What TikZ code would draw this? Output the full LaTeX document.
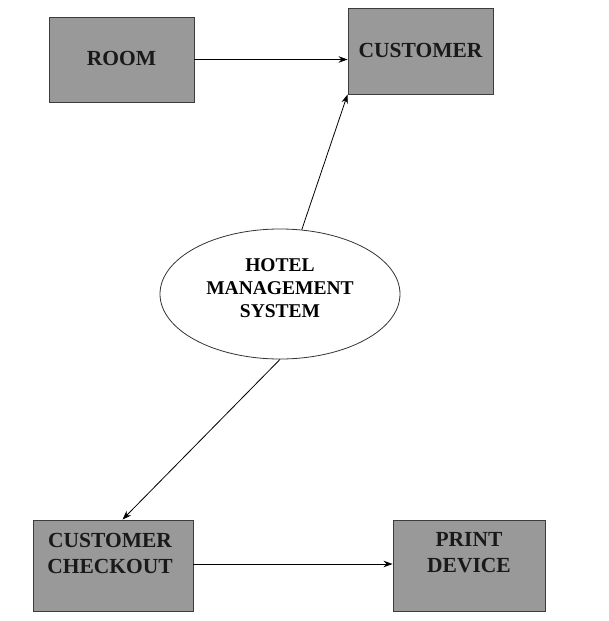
\documentclass[tikz,border=0pt]{standalone}
\usepackage{fontspec}
\setmainfont{Liberation Serif}
\usetikzlibrary{shapes.geometric,arrows.meta}
\definecolor{boxfill}{HTML}{999999}
\definecolor{boxline}{HTML}{3C3C3C}
\begin{document}
\begin{tikzpicture}[x=1pt,y=-1pt,
  entity/.style={draw=boxline,fill=boxfill,line width=0.9pt,rectangle,inner sep=0pt},
  boxtext/.style={font=\fontsize{21.5}{26}\selectfont\bfseries,align=center,inner sep=0pt,text=black!90},
  proc/.style={draw=black!80,line width=0.8pt,ellipse,minimum width=240pt,minimum height=130pt,inner sep=0pt},
  proctext/.style={font=\fontsize{19.5}{23}\selectfont\bfseries,align=center,inner sep=0pt},
  flow/.style={draw=black,line width=0.8pt,-{Stealth[length=9pt,width=6.5pt]}}]
\useasboundingbox (0,0) rectangle (609,621);
\node[entity,minimum width=145pt,minimum height=85pt] (room) at (121.5,59.5) {};
\node[boxtext] (roomt) at (121.5,58) {ROOM};
\node[entity,minimum width=145pt,minimum height=86pt] (cust) at (420.5,51) {};
\node[boxtext] (custt) at (420.5,50) {CUSTOMER};
\node[entity,minimum width=160pt,minimum height=91pt] (chk) at (113,565.5) {};
\node[boxtext] (chkt) at (110,553) {CUSTOMER\\CHECKOUT};
\node[entity,minimum width=152pt,minimum height=91pt] (prt) at (469,565.5) {};
\node[boxtext] (prtt) at (469,553) {PRINT\\DEVICE};
\node[proc] (hms) at (280,294) {};
\node[proctext] (hmst) at (280,288) {HOTEL\\MANAGEMENT\\SYSTEM};
\coordinate (chkin) at ([xshift=90pt]chk.north west);
\draw[flow] (room.east) -- (room.east -| cust.west);
\draw[flow] (hms) -- (cust.south west);
\draw[flow] (hms.south) -- (chkin);
\draw[flow] ([yshift=1.5pt]chk.east) -- ([yshift=1.5pt]chk.east -| prt.west);
\end{tikzpicture}
\end{document}
